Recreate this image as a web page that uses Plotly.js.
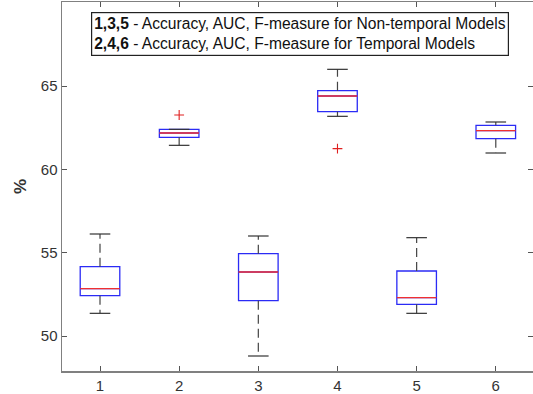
<!DOCTYPE html>
<html>
<head>
<meta charset="utf-8">
<script src="https://cdn.plot.ly/plotly-3.0.1.min.js"></script>
<style>html,body{margin:0;padding:0;background:#fff;}#chart{width:533px;height:394px;}</style>
</head>
<body>
<div id="chart"></div>
<script>
// Data
const categories = [1, 2, 3, 4, 5, 6];
const lowerWhisker = [51.36, 61.44, 48.8, 63.18, 51.36, 60.98];
const q1Values     = [52.42, 61.92, 52.12, 63.46, 51.9, 61.84];
const medianValues = [52.84, 62.18, 53.84, 64.4, 52.3, 62.32];
const q3Values     = [54.16, 62.4, 54.94, 64.72, 53.9, 62.64];
const upperWhisker = [56.12, 62.4, 56.0, 66.0, 55.9, 62.84];
const outlierX = [2, 4];
const outlierY = [63.26, 61.24];
const tickValsY = [50, 55, 60, 65];
const legendLines = [
  ["1,3,5", " - Accuracy, AUC, F-measure for Non-temporal Models"],
  ["2,4,6", " - Accuracy, AUC, F-measure for Temporal Models"]
];

const boxHalf = 0.25, capHalf = 0.13;
const traces = [];

// Dashed whiskers
const wx = [], wy = [];
categories.forEach((c, i) => {
  if (upperWhisker[i] > q3Values[i]) { wx.push(c, c, null); wy.push(q3Values[i], upperWhisker[i], null); }
  if (lowerWhisker[i] < q1Values[i]) { wx.push(c, c, null); wy.push(q1Values[i], lowerWhisker[i], null); }
});
traces.push({type:'scatter', mode:'lines', x:wx, y:wy, line:{color:'#444', width:1.2, dash:'9px,5px'}, hoverinfo:'skip'});

// Whisker caps
const cx = [], cy = [];
categories.forEach((c, i) => {
  cx.push(c - capHalf, c + capHalf, null); cy.push(upperWhisker[i], upperWhisker[i], null);
  cx.push(c - capHalf, c + capHalf, null); cy.push(lowerWhisker[i], lowerWhisker[i], null);
});
traces.push({type:'scatter', mode:'lines', x:cx, y:cy, line:{color:'#333', width:1.2}, hoverinfo:'skip'});

// Boxes
traces.push({
  type:'box', x:categories, q1:q1Values, median:medianValues, q3:q3Values,
  lowerfence:q1Values, upperfence:q3Values, width:2*boxHalf,
  line:{color:'#2b2bf5', width:1.3}, fillcolor:'rgba(0,0,0,0)', boxpoints:false, hoverinfo:'skip'
});

// Medians
const mx = [], my = [];
categories.forEach((c, i) => { mx.push(c - boxHalf, c + boxHalf, null); my.push(medianValues[i], medianValues[i], null); });
traces.push({type:'scatter', mode:'lines', x:mx, y:my, line:{color:'#f03030', width:1.4}, hoverinfo:'skip'});

// Outliers
traces.push({type:'scatter', mode:'markers', x:outlierX, y:outlierY,
  marker:{symbol:'cross-thin', size:7, line:{color:'#e02020', width:1.1}}, hoverinfo:'skip'});

const legendText = legendLines.map(l => '<b>' + l[0] + '</b>' + l[1]).join('<br>');

const layout = {
  width:533, height:394,
  margin:{l:62, r:0, t:2, b:23},
  paper_bgcolor:'#fff', plot_bgcolor:'#fff',
  showlegend:false,
  font:{family:'Liberation Sans, Arial, sans-serif', color:'#222'},
  xaxis:{range:[0.52, 6.47], tickvals:categories, ticks:'inside', ticklen:5, tickcolor:'#555',
    showline:true, linecolor:'#808080', linewidth:1.5, mirror:'ticks', showgrid:false, zeroline:false,
    tickfont:{size:15, color:'#333'}},
  yaxis:{range:[47.9, 70.04], tickvals:tickValsY, ticks:'inside', ticklen:5, tickcolor:'#555',
    showline:true, linecolor:'#808080', linewidth:1.5, mirror:'ticks', showgrid:false, zeroline:false,
    tickfont:{size:15, color:'#333'},
    title:{text:'<b>%</b>', font:{size:17, color:'#333'}, standoff:10}},
  annotations:[{
    xref:'paper', yref:'paper', x:0.062, y:0.972, xanchor:'left', yanchor:'top',
    text:legendText, showarrow:false, align:'left',
    font:{size:15.6, color:'#111'}, bordercolor:'#222', borderwidth:1.2, borderpad:2, bgcolor:'#fff'
  }]
};

Plotly.newPlot('chart', traces, layout, {displayModeBar:false, staticPlot:true});
</script>
</body>
</html>
